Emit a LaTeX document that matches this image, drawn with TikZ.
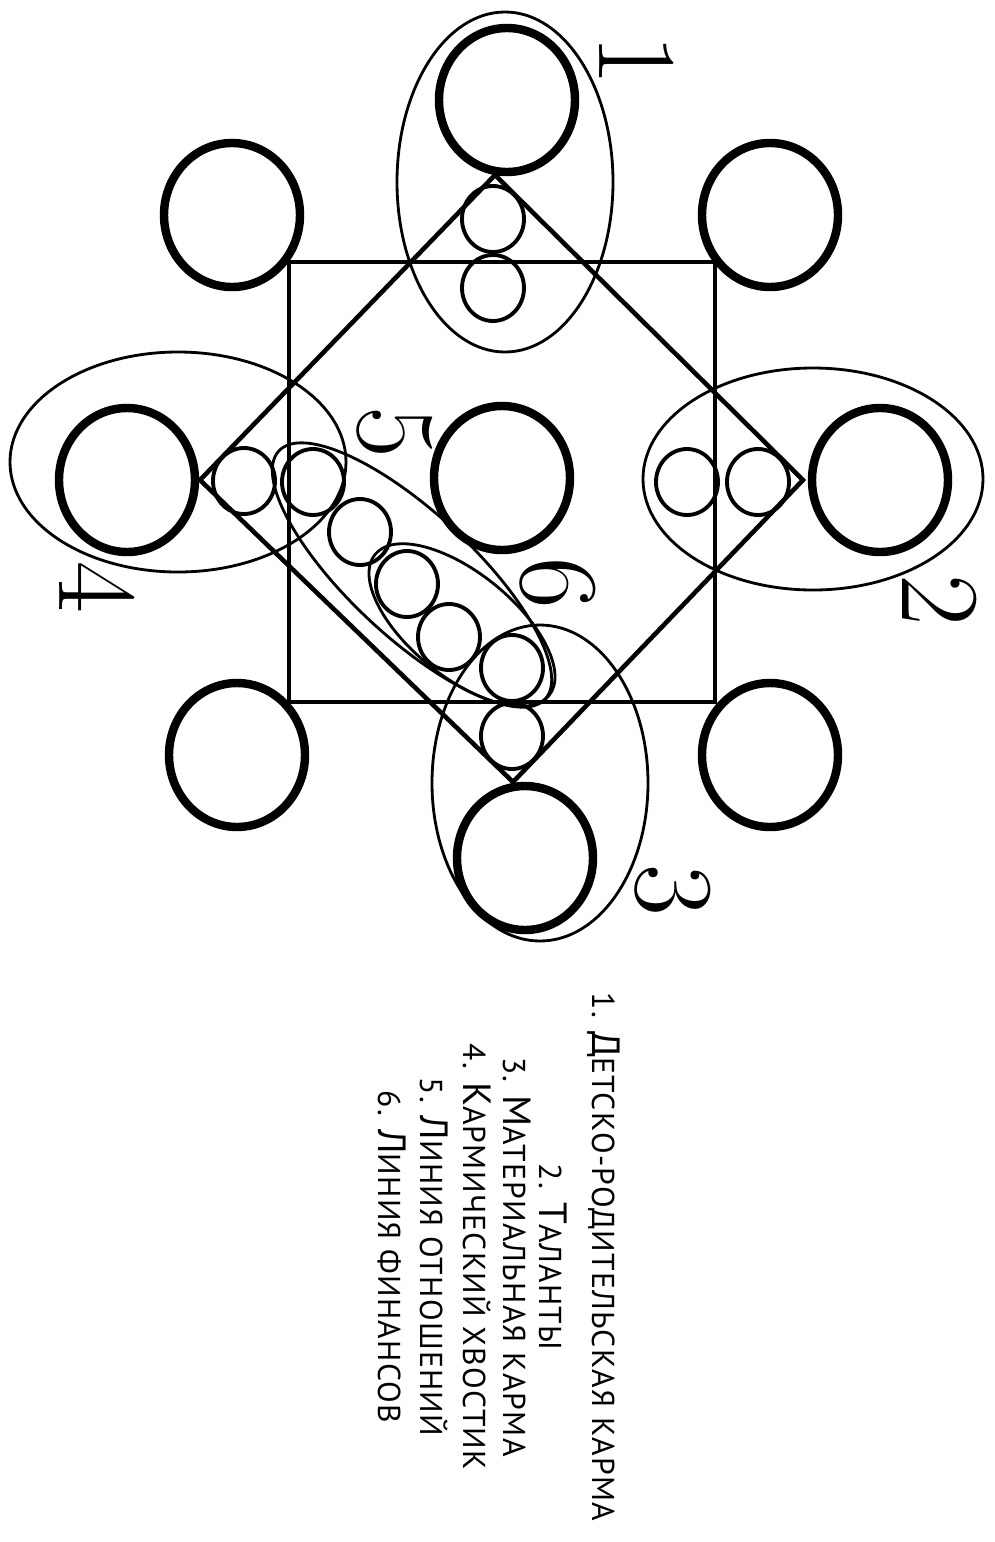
\documentclass[tikz,border=0pt]{standalone}
\usepackage{fontspec}
\usepackage{tikz}
\newfontfamily\legendfont[LetterSpace=4,Numbers=Lining]{PT Sans}
\newcommand{\capletter}[1]{{\fontsize{11.2}{11.2}\selectfont #1}}

\begin{document}
\begin{tikzpicture}[x=0.01cm,y=-0.01cm,
  ring/.style={line width=2.4pt},
  cell/.style={line width=1.1pt},
  frame/.style={line width=1.3pt},
  zone/.style={line width=0.8pt},
  num/.style={rotate=-90,inner sep=0pt,font=\fontsize{32}{32}\selectfont},
  legend/.style={rotate=-90,anchor=base,inner sep=0pt,font=\legendfont\fontsize{9}{9}\selectfont}]
\useasboundingbox (0,0) rectangle (995,1542);
\newcommand{\bigring}[2]{\draw[ring] (#1,#2) ellipse [x radius=68, y radius=72];}
\newcommand{\cellring}[2]{\draw[cell] (#1,#2) ellipse [x radius=31, y radius=33];}
% square and diamond
\draw[frame] (289,262) rectangle (715,702);
\draw[frame] (495,175) -- (803,480) -- (513,782) -- (200,480) -- cycle;
% big rings
\bigring{507}{100} \bigring{127}{480} \bigring{502}{478} \bigring{880}{480} \bigring{525}{858}
\bigring{232}{215} \bigring{770}{215} \bigring{237}{755} \bigring{770}{755}
% small rings
\cellring{493}{219} \cellring{493}{288}
\cellring{687}{482} \cellring{758}{482}
\cellring{512}{668} \cellring{512}{736}
\cellring{244}{481} \cellring{313}{482}
\cellring{360}{532} \cellring{407}{584} \cellring{449}{637}
% zones
\draw[zone] (505,182) ellipse [x radius=108, y radius=170];
\draw[zone] (813,479) ellipse [x radius=170, y radius=111];
\draw[zone] (540,783) ellipse [x radius=108, y radius=158];
\draw[zone] (178,462) ellipse [x radius=168, y radius=110];
\draw[zone,rotate around={-43:(412,575)}] (412,575) ellipse [x radius=182, y radius=62];
\draw[zone,rotate around={-39:(462,625)}] (462,625) ellipse [x radius=112, y radius=52];
% numbers
\node[num] (n1) at (637,60) {1};
\node[num] (n2) at (940,600) {2};
\node[num] (n3) at (673,890) {3};
\node[num] (n4) at (97,587) {4};
\node[num] (n5) at (395,432) {5};
\node[num] (n6) at (558,583) {6};
% legend
\node[legend] (l1) at (592,1257) {1. \capletter{Д}ЕТСКО-РОДИТЕЛЬСКАЯ КАРМА};
\node[legend] (l2) at (539,1257) {2. \capletter{Т}АЛАНТЫ};
\node[legend] (l3) at (503,1257) {3. \capletter{М}АТЕРИАЛЬНАЯ КАРМА};
\node[legend] (l4) at (463,1257) {4. \capletter{К}АРМИЧЕСКИЙ ХВОСТИК};
\node[legend] (l5) at (420,1257) {5. \capletter{Л}ИНИЯ ОТНОШЕНИЙ};
\node[legend] (l6) at (378,1257) {6. \capletter{Л}ИНИЯ ФИНАНСОВ};
\end{tikzpicture}
\end{document}
